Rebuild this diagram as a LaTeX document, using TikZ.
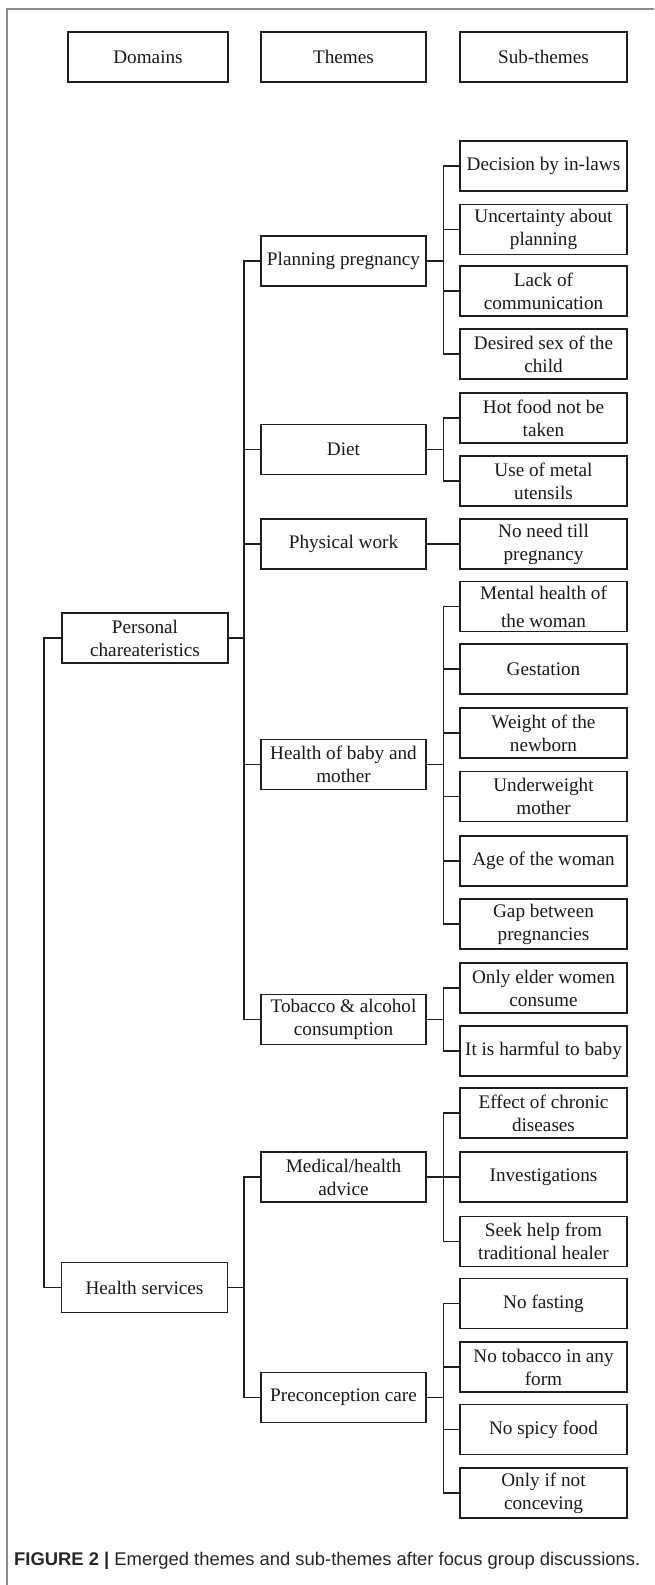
\documentclass[tikz,border=0pt]{standalone}
\usepackage{fontspec}
\usepackage{graphicx}
\setmainfont{Liberation Serif}
\newfontfamily\capfont{Liberation Sans}
\usetikzlibrary{calc}
\tikzset{
  box/.style={draw=black!88, line width=1.9pt, fill=white, align=center, inner sep=0pt,
    text=black!90, font=\fontsize{19.2}{23}\selectfont, minimum height=50pt},
  dombox/.style={box, minimum width=166pt},
  thmbox/.style={box, minimum width=165pt},
  subbox/.style={box, minimum width=167pt},
  link/.style={draw=black!88, line width=1.9pt},
  frameline/.style={draw=black!45, line width=1.6pt}
}
\begin{document}
\begin{tikzpicture}[x=1pt,y=-1pt]
\useasboundingbox (0,0) rectangle (654,1585);
% frame
\draw[frameline] (7,1585) -- (7,9) -- (654,9);
% headers
\node[box, minimum width=160pt] (hdom) at (148,57) {Domains};
\node[thmbox] (hthm) at (343.5,57) {Themes};
\node[subbox] (hsub) at (543.5,57) {Sub-themes};
% domains
\node[dombox] (pc) at (145,638) {Personal\\chareateristics};
\node[dombox] (hs) at (144.5,1287.5) {Health services};
% themes
\node[thmbox] (pp) at (343.5,261) {Planning pregnancy};
\node[thmbox] (diet) at (343.5,449.5) {Diet};
\node[thmbox] (pw) at (343.5,544) {Physical work};
\node[thmbox] (hbm) at (343.5,764.5) {Health of baby and\\mother};
\node[thmbox] (tob) at (343.5,1019.5) {Tobacco \& alcohol\\consumption};
\node[thmbox] (med) at (343.5,1177) {Medical/health\\advice};
\node[thmbox] (pre) at (343.5,1397.5) {Preconception care};
% sub-themes
\node[subbox] (s1) at (543.5,166) {Decision by in-laws};
\node[subbox] (s2) at (543.5,229.5) {Uncertainty about\\planning};
\node[subbox] (s3) at (543.5,291) {Lack of\\communication};
\node[subbox] (s4) at (543.5,354) {Desired sex of the\\child};
\node[subbox] (s5) at (543.5,418) {Hot food not be\\taken};
\node[subbox] (s6) at (543.5,481) {Use of metal\\utensils};
\node[subbox] (s7) at (543.5,544) {No need till\\pregnancy};
\node[subbox, font=\fontsize{19.2}{28}\selectfont] (s8) at (543.5,606.5) {Mental health of\\the woman};
\node[subbox] (s9) at (543.5,669) {Gestation};
\node[subbox] (s10) at (543.5,733) {Weight of the\\newborn};
\node[subbox] (s11) at (543.5,796.5) {Underweight\\mother};
\node[subbox] (s12) at (543.5,861) {Age of the woman};
\node[subbox] (s13) at (543.5,924) {Gap between\\pregnancies};
\node[subbox] (s14) at (543.5,988) {Only elder women\\consume};
\node[subbox] (s15) at (543.5,1051) {It is harmful to baby};
\node[subbox] (s16) at (543.5,1113) {Effect of chronic\\diseases};
\node[subbox] (s17) at (543.5,1177) {Investigations};
\node[subbox] (s18) at (543.5,1241.5) {Seek help from\\traditional healer};
\node[subbox] (s19) at (543.5,1303.5) {No fasting};
\node[subbox] (s20) at (543.5,1367) {No tobacco in any\\form};
\node[subbox] (s21) at (543.5,1429.5) {No spicy food};
\node[subbox] (s22) at (543.5,1493) {Only if not\\conceving};
% bus columns
\coordinate (bd) at (44,0);
\coordinate (bt) at (244,0);
\coordinate (bs) at (443.5,0);
% domain links
\draw[link] (pc.west) -| (bd |- hs.west) -- (hs.west);
% theme links: personal
\draw[link] (pc.east) -- (pc.east -| bt);
\draw[link] (pp.west) -| (bt |- tob.west) -- (tob.west);
\draw[link] (diet.west) -- (diet.west -| bt);
\draw[link] (pw.west) -- (pw.west -| bt);
\draw[link] (hbm.west) -- (hbm.west -| bt);
% theme links: health services
\draw[link] (hs.east) -- (hs.east -| bt);
\draw[link] (med.west) -| (bt |- pre.west) -- (pre.west);
% sub links: planning
\draw[link] (pp.east) -- (pp.east -| bs);
\draw[link] (s1.west) -| (bs |- s4.west) -- (s4.west);
\draw[link] (s2.west) -- (s2.west -| bs);
\draw[link] (s3.west) -- (s3.west -| bs);
% diet
\draw[link] (diet.east) -- (diet.east -| bs);
\draw[link] (s5.west) -| (bs |- s6.west) -- (s6.west);
% physical work
\draw[link] (pw.east) -- (s7.west);
% health of baby
\draw[link] (hbm.east) -- (hbm.east -| bs);
\draw[link] (s8.west) -| (bs |- s13.west) -- (s13.west);
\draw[link] (s9.west) -- (s9.west -| bs);
\draw[link] (s10.west) -- (s10.west -| bs);
\draw[link] (s11.west) -- (s11.west -| bs);
\draw[link] (s12.west) -- (s12.west -| bs);
% tobacco
\draw[link] (tob.east) -- (tob.east -| bs);
\draw[link] (s14.west) -| (bs |- s15.west) -- (s15.west);
% medical
\draw[link] (med.east) -- (med.east -| bs);
\draw[link] (s16.west) -| (bs |- s18.west) -- (s18.west);
\draw[link] (s17.west) -- (s17.west -| bs);
% preconception
\draw[link] (pre.east) -- (pre.east -| bs);
\draw[link] (s19.west) -| (bs |- s22.west) -- (s22.west);
\draw[link] (s20.west) -- (s20.west -| bs);
\draw[link] (s21.west) -- (s21.west -| bs);
% caption
\node[anchor=base west, inner sep=0pt, text=black!85] (cap) at (14,1565)
  {\resizebox{626pt}{!}{\capfont\fontsize{18}{20}\selectfont\textbf{FIGURE 2 |}\ Emerged themes and sub-themes after focus group discussions.}};
\end{tikzpicture}
\end{document}
